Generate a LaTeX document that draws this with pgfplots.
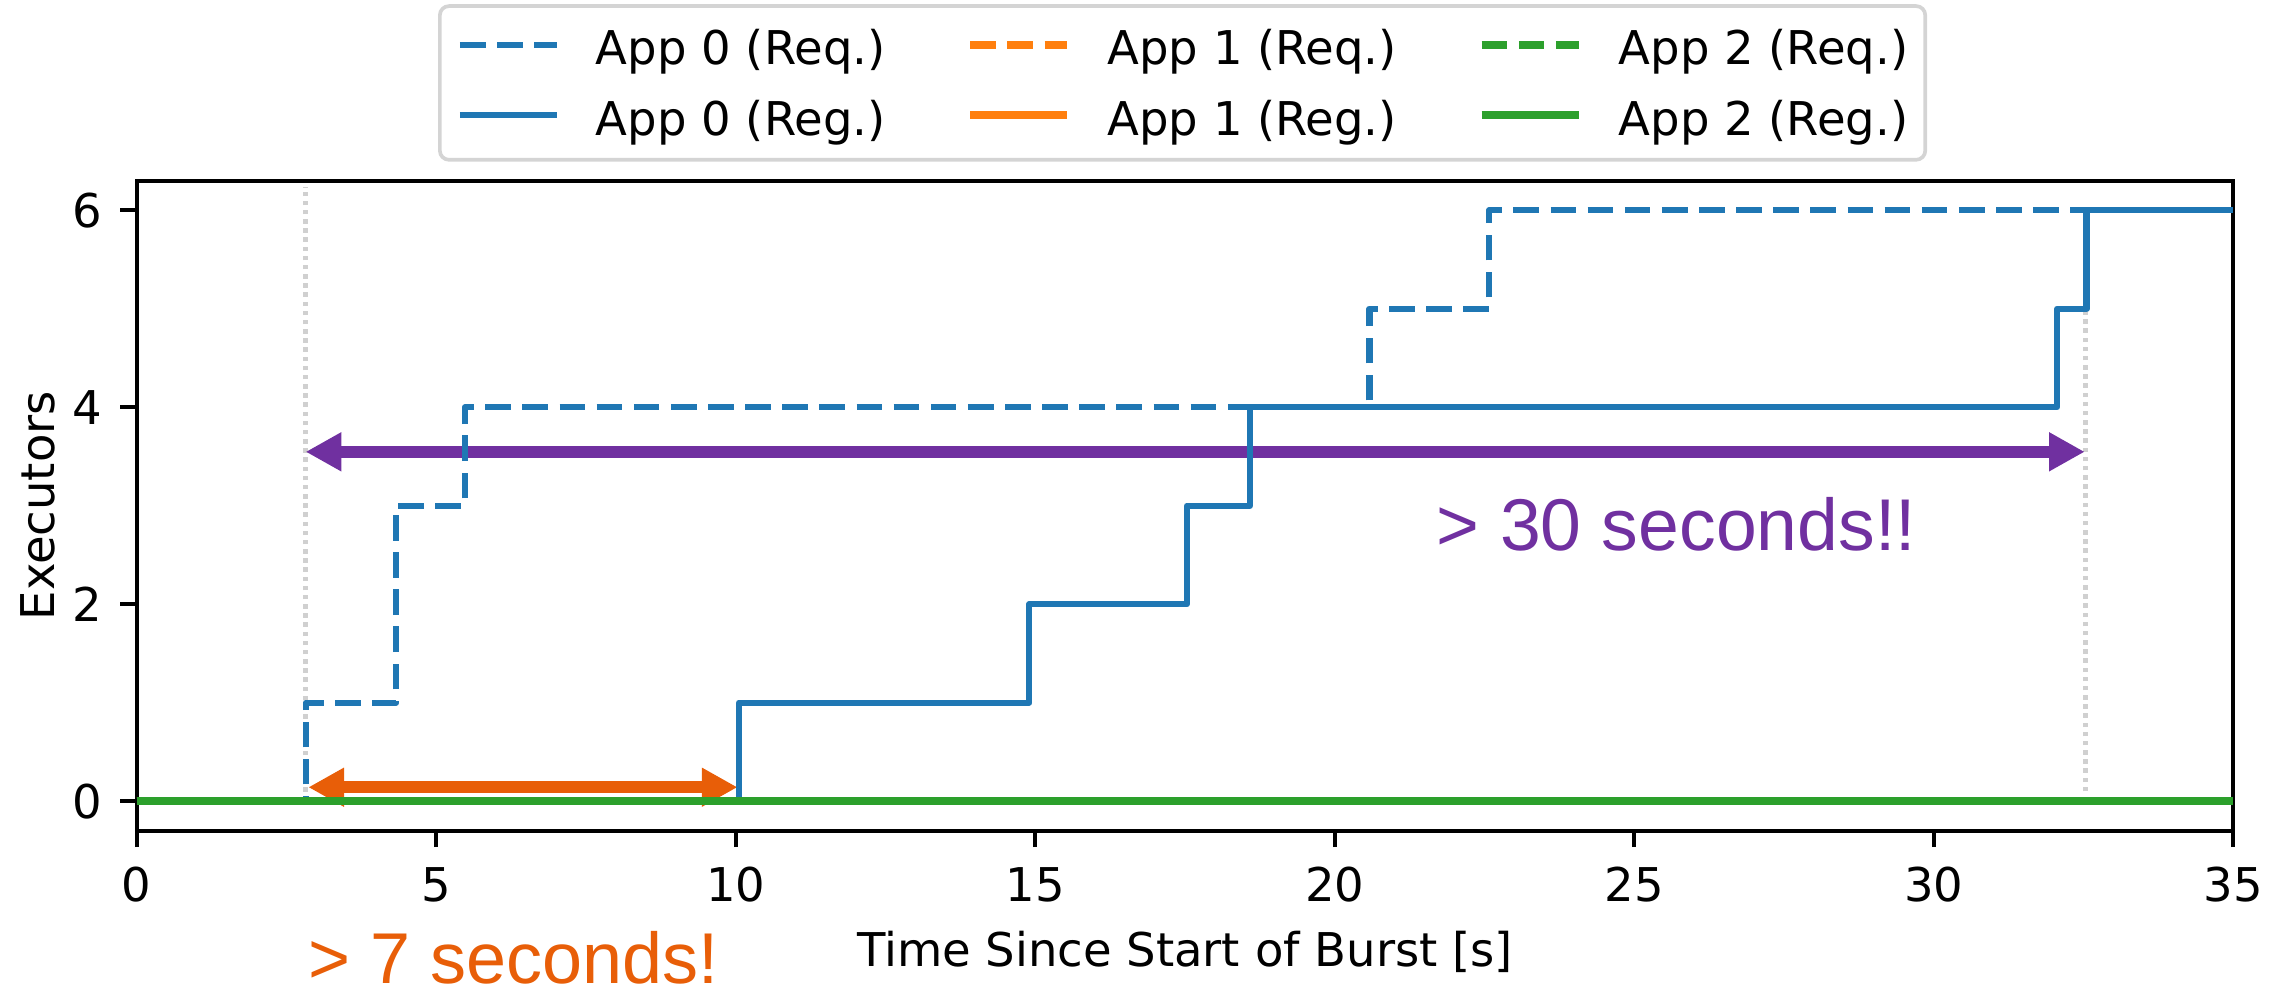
\documentclass[border=0pt]{standalone}
\usepackage{fontspec}
\setmainfont{DejaVu Sans}
\newfontfamily\arialfont{Liberation Sans}
\usepackage{pgfplots}
\pgfplotsset{compat=1.18}
\usetikzlibrary{arrows.meta}
\definecolor{tabblue}{HTML}{1F77B4}
\definecolor{taborange}{HTML}{FF7F0E}
\definecolor{tabgreen}{HTML}{2CA02C}
\definecolor{annpurple}{HTML}{7030A0}
\definecolor{annorange}{HTML}{E85E08}
\definecolor{vgray}{HTML}{D0D0D0}
\definecolor{legframe}{HTML}{D4D4D4}
\begin{document}
\begin{tikzpicture}
\path[use as bounding box] (-29.83pt,-35.85pt) rectangle (470.25pt,181.24pt);
\begin{axis}[
  at={(0pt,0pt)}, anchor=south west,
  scale only axis, width=457.44pt, height=141.82pt,
  xmin=0, xmax=35, ymin=-0.3, ymax=6.3,
  xtick={0,5,...,35}, ytick={0,2,4,6},
  tick align=outside, xtick pos=bottom, ytick pos=left,
  major tick length=3.6pt,
  every tick/.style={black, line width=0.8pt},
  axis line style={black, line width=0.8pt},
  clip mode=individual,
  no markers,
  /pgf/number format/assume math mode=true,
  tick label style={font=\fontsize{10.15}{12}\selectfont},
  xticklabel style={anchor=north, inner sep=0pt, text height=7.4pt, text depth=0pt, yshift=-4.2pt},
  yticklabel style={anchor=east, inner sep=0pt, text height=7.4pt, text depth=0pt, xshift=-3.7pt},
  xlabel={Time Since Start of Burst [s]},
  ylabel={Executors},
  label style={font=\fontsize{10.15}{12}\selectfont},
  xlabel style={at={(axis description cs:0.5,-0.2097)}, anchor=base, inner sep=0pt},
  ylabel style={at={(axis description cs:-0.0387,0.5)}, anchor=south, rotate=0, inner sep=0pt},
  legend columns=3,
  legend style={
    at={(axis description cs:0.1437,1.0293)}, anchor=south west,
    draw=legframe, line width=0.8pt, rounded corners=2pt, fill=white,
    inner xsep=3.7pt, inner ysep=5.4pt,
    row sep=7.94pt,
    font=\fontsize{10.15}{12}\selectfont,
    nodes={inner sep=0pt, text height=7.4pt, text depth=0pt},
    cells={anchor=base west},
    /tikz/every odd column/.append style={column sep=7.85pt},
    /tikz/every even column/.append style={column sep=17.6pt},
  },
  legend image code/.code={\draw[#1] (0pt,4.36pt) -- (21.16pt,4.36pt);},
]
% guide lines
\addplot[vgray, line width=1.2pt, dash pattern=on 1pt off 1pt, forget plot] coordinates {(2.82,0) (2.82,6.24)};
\addplot[vgray, line width=1.2pt, dash pattern=on 1pt off 1pt, forget plot] coordinates {(32.53,0.1) (32.53,5)};
% annotation arrows
\addplot[annpurple, line width=2.75pt, {Triangle[length=7.8pt,width=8pt]}-{Triangle[length=7.8pt,width=8pt]}, forget plot] coordinates {(2.82,3.547) (32.52,3.547)};
\addplot[annorange, line width=2.7pt, {Triangle[length=7.8pt,width=8pt]}-{Triangle[length=7.8pt,width=8pt]}, forget plot] coordinates {(2.865,0.141) (10.03,0.141)};
% requested
\addplot[const plot, tabblue, line width=1.35pt, line join=round, dash pattern=on 5.6pt off 2.5pt] coordinates {(0,0) (2.82,1) (4.33,3) (5.48,4) (20.58,5) (22.58,6) (35,6)};
\addlegendentry{App 0 (Req.)}
\addplot[const plot, taborange, line width=1.8pt, dash pattern=on 5.6pt off 2.5pt] coordinates {(0,0) (35,0)};
\addlegendentry{App 1 (Req.)}
\addplot[const plot, tabgreen, line width=1.8pt, dash pattern=on 5.6pt off 2.5pt] coordinates {(0,0) (35,0)};
\addlegendentry{App 2 (Req.)}
% registered
\addplot[const plot, tabblue, line width=1.35pt, line join=round] coordinates {(0,0) (10.05,1) (14.90,2) (17.53,3) (18.58,4) (32.06,5) (32.55,6) (35,6)};
\addlegendentry{App 0 (Reg.)}
\addplot[const plot, taborange, line width=1.8pt] coordinates {(0,0) (35,0)};
\addlegendentry{App 1 (Reg.)}
\addplot[const plot, tabgreen, line width=1.8pt] coordinates {(0,0) (35,0)};
\addlegendentry{App 2 (Reg.)}
% annotation texts
\node[anchor=base west, inner sep=0pt, text=annpurple, font=\arialfont\fontsize{16}{19}\selectfont] at (axis cs:21.69,2.543) {> 30 seconds!!};
\node[anchor=base west, inner sep=0pt, text=annorange, font=\arialfont\fontsize{15.7}{19}\selectfont] at (axis cs:2.86,-1.85) {> 7 seconds!};
\end{axis}
\end{tikzpicture}
\end{document}
